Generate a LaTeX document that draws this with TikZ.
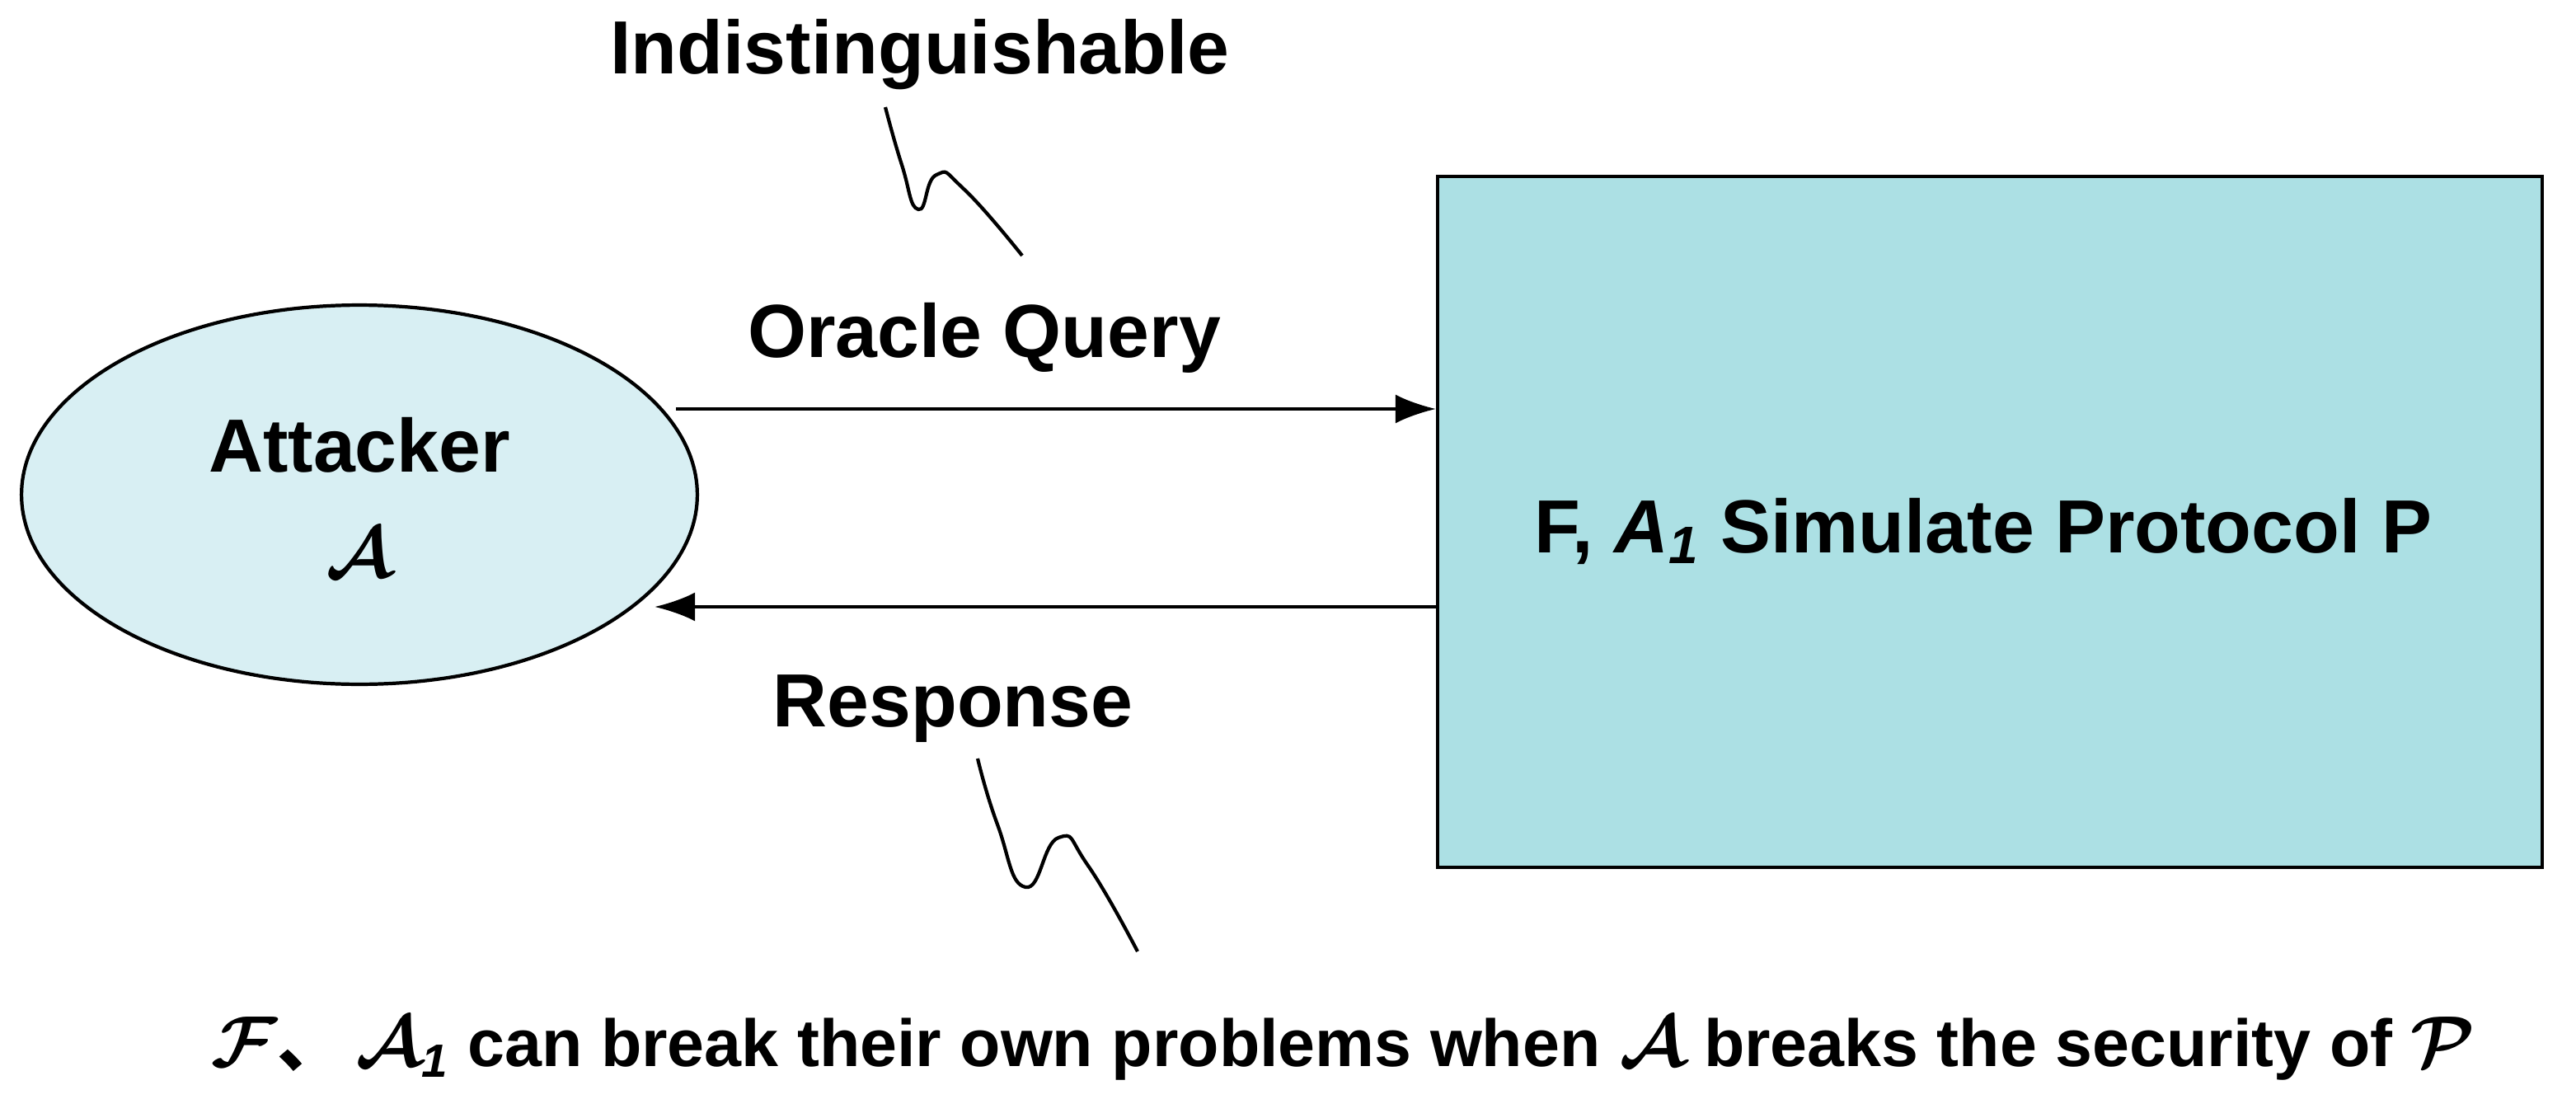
\documentclass[tikz,border=0pt]{standalone}
\usepackage{fontspec}
\usepackage{amsmath,amssymb,bm}
\usetikzlibrary{arrows.meta,shapes.geometric}
\setmainfont{Liberation Sans}
\newfontfamily\cjk{Noto Sans CJK SC}
\newcommand{\scA}{\ensuremath{\bm{\mathcal{A}}}}
\newcommand{\scF}{\ensuremath{\bm{\mathcal{F}}}}
\newcommand{\scP}{\ensuremath{\bm{\mathcal{P}}}}
\begin{document}
\begin{tikzpicture}[x=0.02cm,y=-0.02cm,
  lbl/.style={font=\fontsize{26}{30}\selectfont\bfseries},
  conn/.style={line width=1.2pt,-{Latex[length=14pt,width=10pt]}},
  wig/.style={line width=1.2pt}]
\useasboundingbox (0,0) rectangle (1562.5,677.5);
\node[draw,line width=1.2pt,fill={rgb,255:red,216;green,239;blue,243},ellipse,minimum width=8.2cm,minimum height=4.6cm,inner sep=0] (att) at (218,300) {};
\node[lbl] (attl) at (218,270) {Attacker};
\node[lbl] (attA) at (218,335) {\scA};
\node[draw,line width=1.2pt,fill={rgb,255:red,172;green,224;blue,228},minimum width=13.4cm,minimum height=8.38cm,anchor=north west] (box) at (871,106) {};
\node[lbl] (boxl) at (1203,322) {F, \textit{A\textsubscript{1}} Simulate Protocol P};
\coordinate (q0) at (410,248);
\coordinate (r1) at (397,368);
\draw[conn] (q0) -- (q0 -| box.west);
\draw[conn] (r1 -| box.west) -- (r1);
\node[lbl] (oq) at (597,205) {Oracle Query};
\node[lbl] (resp) at (578,430) {Response};
\node[lbl] (ind) at (558,33) {Indistinguishable};
\draw[wig] plot[smooth,tension=0.9] coordinates {(537,65) (547,100) (557,127) (568,106) (585,115) (620,155)};
\draw[wig] plot[smooth,tension=0.9] coordinates {(593,460) (605,500) (622,538) (642,508) (660,525) (690,577)};
\node[font=\fontsize{23}{27}\selectfont\bfseries] (bot) at (815,636) {\scF{\cjk 、}\,\scA\textsubscript{\textit{1}} can break their own problems when \scA{} breaks the security of \scP};
\end{tikzpicture}
\end{document}
